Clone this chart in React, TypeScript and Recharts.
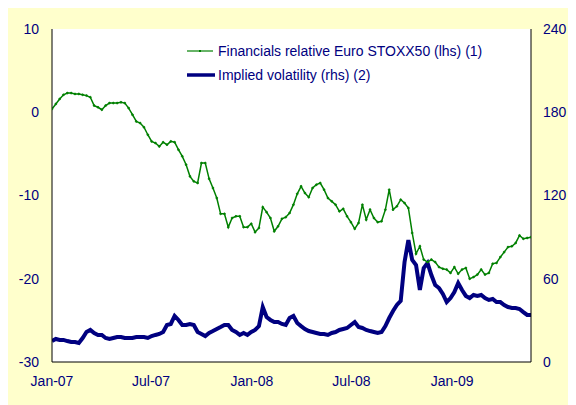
import {
  LineChart,
  Line,
  XAxis,
  YAxis,
  CartesianGrid,
  Legend,
} from "recharts";

// Weekly observations from early Jan 2007 to end of May 2009
const financialsRelative = [
  0.4, 1.0, 1.6, 2.1, 2.3, 2.3, 2.2, 2.2, 2.1, 2.0,
  1.8, 0.8, 0.6, 0.3, 0.8, 1.1, 1.1, 1.1, 1.2, 1.1,
  0.5, -0.3, -1.1, -1.3, -1.8, -2.7, -3.5, -3.7, -4.1, -3.6,
  -3.9, -3.5, -3.6, -4.5, -5.3, -6.3, -7.7, -8.3, -8.5, -6.1,
  -6.1, -8.0, -9.1, -10.3, -12.2, -12.2, -13.8, -12.7, -12.5, -12.5,
  -13.8, -13.8, -13.4, -14.4, -13.9, -11.4, -12.0, -12.7, -14.3, -13.7,
  -12.8, -12.6, -12.1, -11.1, -9.8, -8.9, -9.7, -10.2, -9.1, -8.7,
  -8.5, -9.3, -10.3, -10.7, -11.1, -11.9, -11.6, -12.5, -13.2, -14.0,
  -13.3, -11.1, -12.9, -11.7, -12.7, -13.2, -13.1, -11.7, -9.3, -11.7,
  -11.3, -10.5, -10.9, -11.5, -14.5, -17.0, -16.1, -17.7, -18.0, -17.7,
  -18.0, -18.6, -18.8, -18.9, -19.3, -18.6, -19.4, -18.9, -18.7, -20.0,
  -19.8, -19.5, -18.9, -19.5, -19.3, -18.2, -18.1, -17.4, -16.8, -16.2,
  -16.1, -15.7, -14.8, -15.2, -15.1, -15.0,
];

const impliedVolatility = [
  15.1, 16.6, 15.9, 15.9, 15.1, 14.4, 14.4, 13.7, 17.3, 21.6,
  23.1, 20.9, 19.5, 19.5, 17.3, 16.6, 17.3, 18.0, 18.0, 17.3,
  17.3, 17.3, 18.0, 18.0, 18.0, 17.3, 18.7, 19.5, 20.2, 21.6,
  26.7, 27.4, 33.2, 30.3, 26.7, 26.7, 27.4, 26.7, 21.6, 20.2,
  18.7, 20.9, 22.3, 23.8, 25.2, 26.7, 26.7, 23.1, 21.6, 19.5,
  20.9, 19.5, 21.6, 23.1, 25.9, 39.6, 32.4, 30.3, 28.8, 28.8,
  27.4, 26.7, 31.7, 33.2, 28.1, 25.9, 23.8, 22.3, 21.6, 20.9,
  20.2, 20.2, 19.5, 20.9, 21.6, 23.1, 23.8, 24.5, 26.7, 28.8,
  25.2, 24.5, 23.1, 22.3, 21.6, 20.9, 21.6, 25.9, 31.7, 36.8,
  41.1, 44.0, 72.1, 87.9, 73.5, 69.9, 51.9, 67.7, 71.3, 62.7,
  55.5, 53.3, 49.0, 43.2, 46.1, 50.4, 56.9, 51.9, 47.6, 46.1,
  48.3, 47.6, 48.3, 46.1, 44.7, 45.4, 43.2, 43.2, 41.1, 39.6,
  38.9, 38.9, 38.2, 36.0, 33.9, 33.9,
];

// days since 1 Jan 2007 for the month ticks
const xTickDays = [0, 181, 365, 547, 731];
const xTickLabels = ["Jan-07", "Jul-07", "Jan-08", "Jul-08", "Jan-09"];
const leftTicks = [-30, -20, -10, 0, 10];
const rightTicks = [0, 60, 120, 180, 240];

const GREEN = "#008000";
const NAVY = "#000080";
const FONT = "'Liberation Sans', Arial, sans-serif";

const chartData = financialsRelative.map((v, i) => ({
  day: i * 7,
  fin: v,
  vol: impliedVolatility[i],
}));

const renderLegend = () => (
  <div style={{ fontFamily: FONT, fontSize: 14, color: NAVY }}>
    <div style={{ display: "flex", alignItems: "center", height: 24 }}>
      <svg width={31} height={10}>
        <line x1={0} y1={5} x2={26} y2={5} stroke={GREEN} strokeWidth={1.2} />
        <rect x={12} y={4} width={2} height={2} fill={GREEN} />
      </svg>
      <span>Financials relative Euro STOXX50 (lhs) (1)</span>
    </div>
    <div style={{ display: "flex", alignItems: "center", height: 24 }}>
      <svg width={31} height={10}>
        <line x1={0} y1={5} x2={28} y2={5} stroke={NAVY} strokeWidth={3.5} />
      </svg>
      <span>Implied volatility (rhs) (2)</span>
    </div>
  </div>
);

const App = () => {
  return (
    <LineChart
      width={568}
      height={397}
      data={chartData}
      margin={{ top: 21, right: 0, left: 0, bottom: 0 }}
      style={{ background: "#FFFFCC" }}
    >
      <CartesianGrid
        yAxisId="left"
        horizontal={false}
        vertical={false}
        fill="#ffffff"
        stroke="none"
      />
      <XAxis
        dataKey="day"
        type="number"
        domain={[0, 875]}
        ticks={xTickDays}
        tickFormatter={(d: number) => xTickLabels[xTickDays.indexOf(d)]}
        height={43}
        axisLine={{ stroke: "#000" }}
        tickLine={false}
        tickSize={6}
        tickMargin={8}
        tick={{ fontSize: 14, fill: NAVY, fontFamily: FONT }}
        allowDataOverflow
      />
      <YAxis
        yAxisId="left"
        orientation="left"
        domain={[-30, 10]}
        ticks={leftTicks}
        width={44}
        axisLine={{ stroke: "#000" }}
        tickLine={false}
        tickSize={6}
        tickMargin={7}
        tick={{ fontSize: 14, fill: NAVY, fontFamily: FONT }}
      />
      <YAxis
        yAxisId="right"
        orientation="right"
        domain={[0, 240]}
        ticks={rightTicks}
        width={45}
        axisLine={{ stroke: "#000" }}
        tickLine={false}
        tickSize={6}
        tickMargin={6}
        tick={{ fontSize: 14, fill: NAVY, fontFamily: FONT }}
      />
      <Legend
        layout="vertical"
        align="center"
        verticalAlign="middle"
        content={renderLegend}
        wrapperStyle={{ top: 31, left: 179 }}
      />
      <Line
        yAxisId="right"
        type="linear"
        dataKey="vol"
        stroke={NAVY}
        strokeWidth={4}
        dot={false}
        isAnimationActive={false}
      />
      <Line
        yAxisId="left"
        type="linear"
        dataKey="fin"
        stroke={GREEN}
        strokeWidth={1.5}
        dot={{ r: 1, fill: GREEN, stroke: GREEN, strokeWidth: 0.6 }}
        isAnimationActive={false}
      />
    </LineChart>
  );
};

export default App;
